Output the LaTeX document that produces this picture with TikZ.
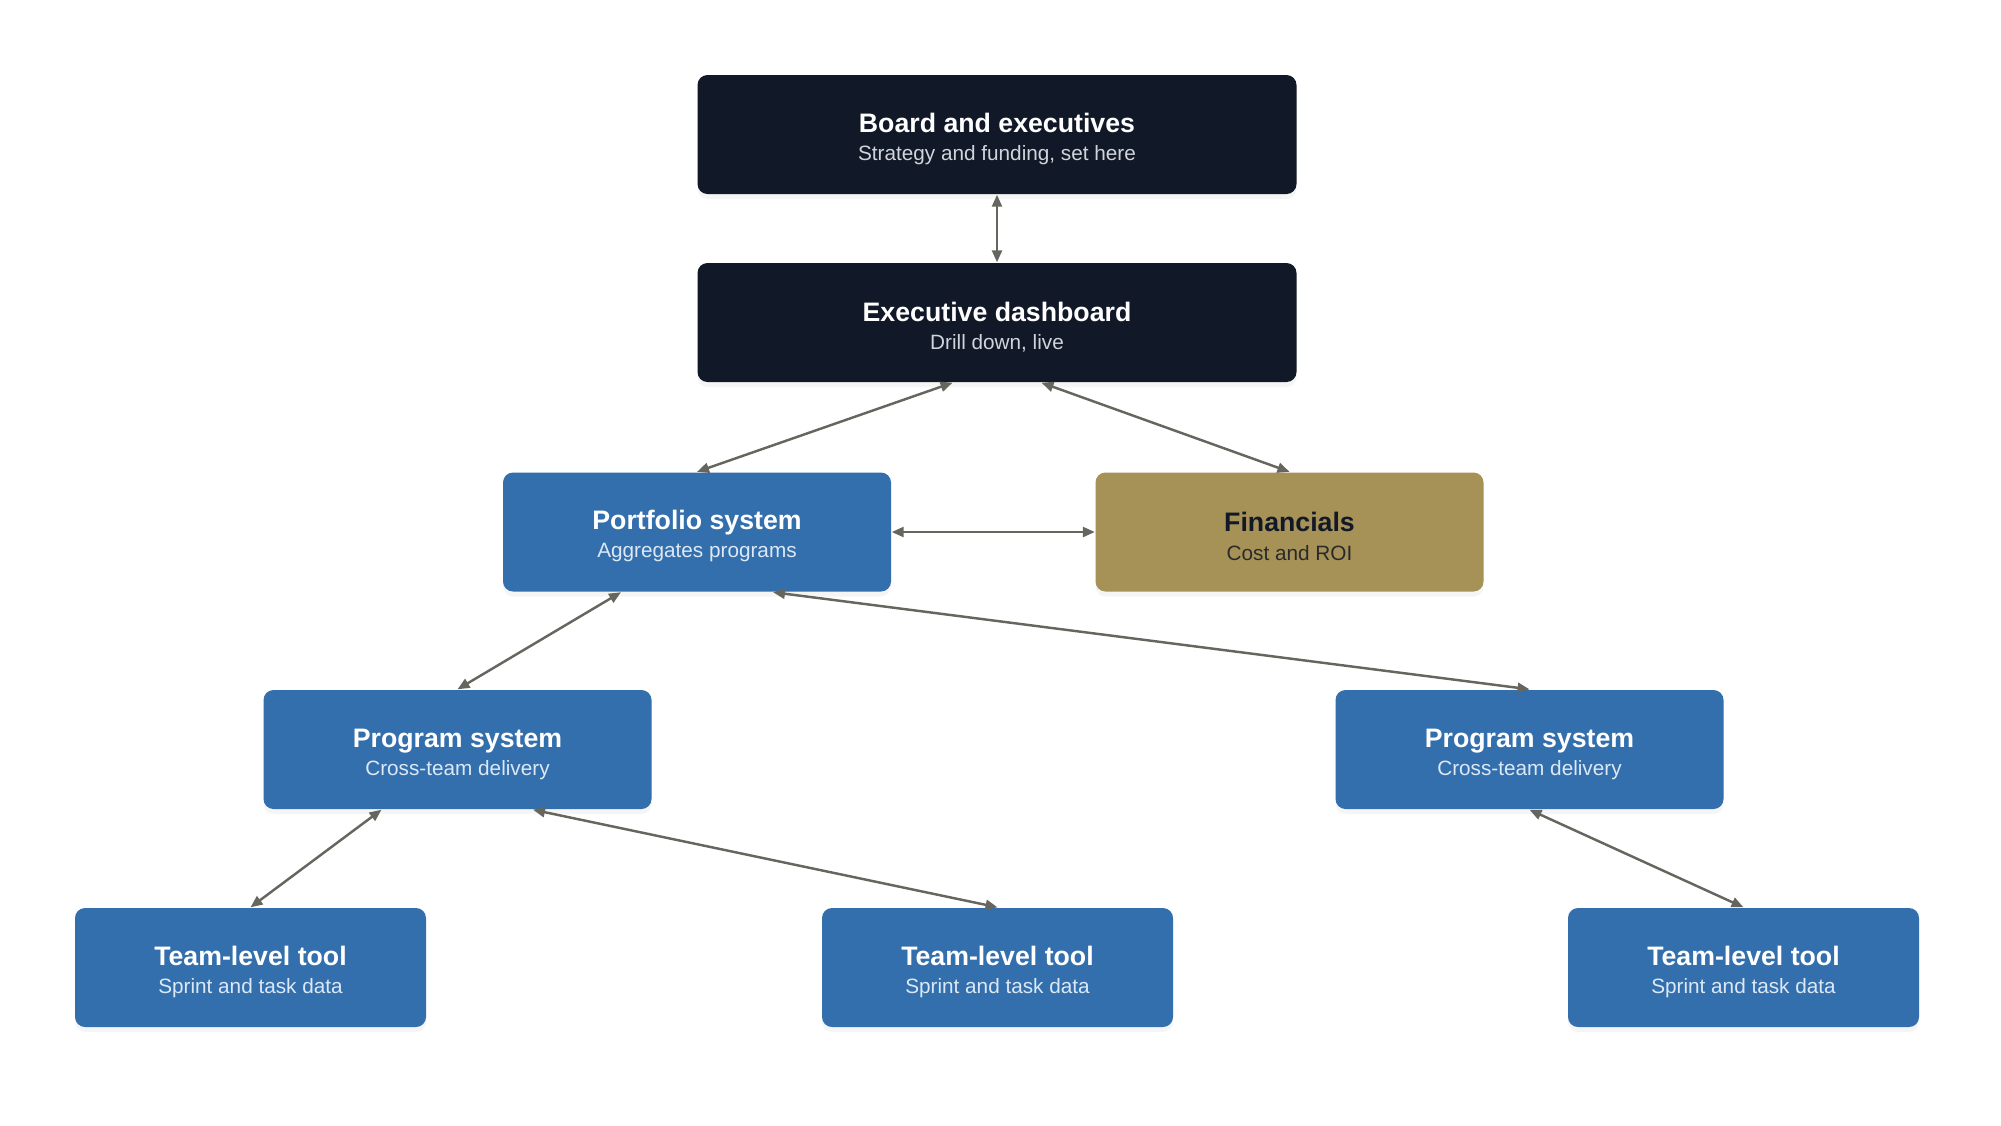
\documentclass[tikz,border=0pt]{standalone}
\usepackage{fontspec}
\setmainfont{Liberation Sans}
\usetikzlibrary{arrows.meta,calc,shadows}
\definecolor{navy}{HTML}{111827}
\definecolor{steel}{HTML}{336FAD}
\definecolor{ochre}{HTML}{A69157}
\definecolor{linkgray}{HTML}{66665F}
\definecolor{subblue}{HTML}{DCE8F5}
\definecolor{subgray}{HTML}{D1D5DB}
\definecolor{subdark}{HTML}{2A2A2A}
\newcommand{\boxhead}[1]{{\fontsize{7.6}{8}\selectfont\bfseries\rule{0pt}{8pt}#1}}

\begin{document}
\begin{tikzpicture}[
    x=1cm,
    y=1cm,
    font=\fontsize{5.9}{8}\selectfont,
    tier/.style={rectangle, rounded corners=1mm, minimum height=1.19cm, inner sep=0pt, align=center, text=white,
      drop shadow={opacity=0.08, shadow xshift=0pt, shadow yshift=-0.5mm}},
    leadbox/.style={tier, fill=navy, minimum width=5.99cm},
    sysbox/.style={tier, fill=steel, minimum width=3.88cm},
    finbox/.style={tier, fill=ochre, text=navy, minimum width=3.88cm},
    teambox/.style={tier, fill=steel, minimum width=3.51cm},
    link/.style={{Triangle[length=1.2mm,width=1mm]}-{Triangle[length=1.2mm,width=1mm]}, line width=0.7pt, draw=linkgray}
  ]
    \useasboundingbox (0,0) rectangle (20.01,-11.25);

    \node[leadbox] (board) at (9.97,-1.345) {\boxhead{Board and executives}\\{\color{subgray}Strategy and funding, set here}};
    \node[leadbox] (exec) at (9.97,-3.225) {\boxhead{Executive dashboard}\\{\color{subgray}Drill down, live}};
    \node[sysbox] (portfolio) at (6.97,-5.32) {\boxhead{Portfolio system}\\{\color{subblue}Aggregates programs}};
    \node[finbox] (fin) at (12.895,-5.32) {\boxhead{Financials}\\{\color{subdark}Cost and ROI}};
    \node[sysbox] (progL) at (4.575,-7.495) {\boxhead{Program system}\\{\color{subblue}Cross-team delivery}};
    \node[sysbox] (progR) at (15.295,-7.495) {\boxhead{Program system}\\{\color{subblue}Cross-team delivery}};
    \node[teambox] (teamL) at (2.505,-9.675) {\boxhead{Team-level tool}\\{\color{subblue}Sprint and task data}};
    \node[teambox] (teamM) at (9.975,-9.675) {\boxhead{Team-level tool}\\{\color{subblue}Sprint and task data}};
    \node[teambox] (teamR) at (17.435,-9.675) {\boxhead{Team-level tool}\\{\color{subblue}Sprint and task data}};

    \draw[link] (board.south) -- (exec.north);
    \draw[link] ($(exec.south)+(-0.445,0)$) -- (portfolio.north);
    \draw[link] ($(exec.south)+(0.445,0)$) -- (fin.north);
    \draw[link] (portfolio.east) -- (fin.west);
    \draw[link] ($(portfolio.south)+(-0.76,0)$) -- (progL.north);
    \draw[link] ($(portfolio.south)+(0.76,0)$) -- (progR.north);
    \draw[link] ($(progL.south)+(-0.76,0)$) -- (teamL.north);
    \draw[link] ($(progL.south)+(0.755,0)$) -- (teamM.north);
    \draw[link] (progR.south) -- (teamR.north);
  \end{tikzpicture}
\end{document}
